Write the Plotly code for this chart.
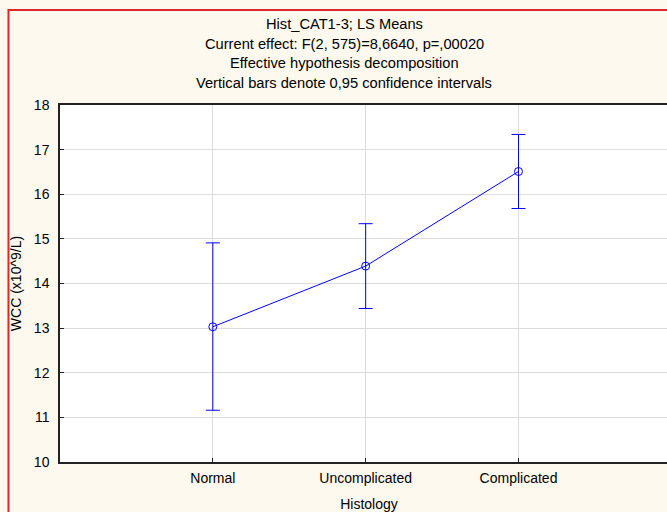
import plotly.graph_objects as go

categories = ["Normal", "Uncomplicated", "Complicated"]
means = [13.03, 14.39, 16.51]
upper_ci = [14.91, 15.34, 17.34]
lower_ci = [11.16, 13.44, 15.68]
y_ticks = [10, 11, 12, 13, 14, 15, 16, 17, 18]
title_lines = [
    "Hist_CAT1-3; LS Means",
    "Current effect: F(2, 575)=8,6640, p=,00020",
    "Effective hypothesis decomposition",
    "Vertical bars denote 0,95 confidence intervals",
]

err_plus = [u - m for u, m in zip(upper_ci, means)]
err_minus = [m - l for m, l in zip(means, lower_ci)]

W, H = 680, 512
ML, MR, MT, MB = 60, 0, 105, 50
pw, ph = W - ML - MR, H - MT - MB

def px_x(x):
    return (x - ML) / pw

def px_y(y):
    return (H - MB - y) / ph

FONT = "Liberation Sans, Arial, sans-serif"
BLUE = "#0000FF"

fig = go.Figure()
fig.add_trace(go.Scatter(
    x=categories, y=means, mode="lines+markers",
    line=dict(color=BLUE, width=1),
    marker=dict(symbol="circle-open", size=8, color=BLUE, line=dict(width=1, color=BLUE)),
    error_y=dict(type="data", symmetric=False, array=err_plus, arrayminus=err_minus,
                 color=BLUE, thickness=1, width=7),
    showlegend=False,
))

ys = [24.5, 44, 63.5, 83]
for t, y in zip(title_lines, ys):
    fig.add_annotation(text=t, xref="paper", yref="paper", x=px_x(345), y=px_y(y),
                       xanchor="center", yanchor="middle", showarrow=False,
                       font=dict(family=FONT, size=14.67, color="#000000"))

fig.add_shape(type="rect", xref="paper", yref="paper",
              x0=px_x(8.3), x1=1.3, y0=-0.5, y1=px_y(10),
              line=dict(color="#E0262B", width=2), fillcolor="rgba(0,0,0,0)", layer="above")

fig.update_layout(
    width=W, height=H,
    margin=dict(l=ML, r=MR, t=MT, b=MB),
    paper_bgcolor="#FEF9EF",
    plot_bgcolor="#FFFFFF",
    font=dict(family=FONT, size=14, color="#000000"),
    xaxis=dict(
        type="category", range=[-1, -1 + pw / 153.33],
        showgrid=True, gridcolor="#DCDCDC", gridwidth=1,
        showline=True, linecolor="#222222", linewidth=1.5, mirror=True,
        ticks="inside", ticklen=4, tickcolor="#222222",
        tickfont=dict(size=14), ticklabelstandoff=2,
        title=dict(text="Histology", font=dict(size=14), standoff=15),
        zeroline=False, fixedrange=True,
    ),
    yaxis=dict(
        range=[10, 18], tickvals=y_ticks,
        showgrid=True, gridcolor="#DCDCDC", gridwidth=1,
        showline=True, linecolor="#222222", linewidth=1.5, mirror=True,
        ticks="inside", ticklen=4, tickcolor="#222222",
        tickfont=dict(size=14), ticklabelstandoff=6,
        title=dict(text="WCC (x10^9/L)", font=dict(size=14), standoff=9),
        zeroline=False, fixedrange=True,
    ),
)

fig.write_html("out.html", config={"displayModeBar": False},
               post_script="document.body.style.margin='0';document.body.style.overflow='hidden';")
